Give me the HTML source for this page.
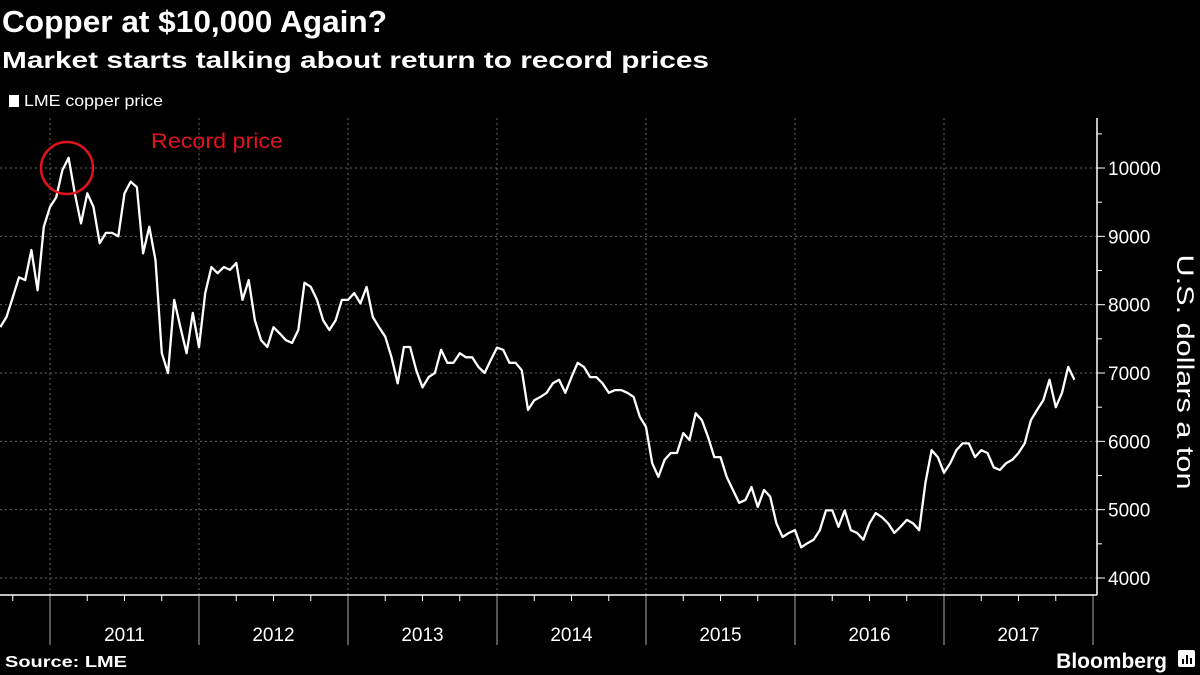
<!DOCTYPE html>
<html><head><meta charset="utf-8"><style>
body{margin:0;background:#000;width:1200px;height:675px;overflow:hidden;font-family:"Liberation Sans",sans-serif;color:#fff}
</style></head><body>
<svg id="chart" width="1200" height="675" viewBox="0 0 1200 675" xmlns="http://www.w3.org/2000/svg" style="display:block">
<rect width="1200" height="675" fill="#000"/>
<text x="2" y="32" fill="#fff" font-size="31" font-weight="bold" font-family="Liberation Sans, sans-serif" textLength="385" lengthAdjust="spacingAndGlyphs">Copper at $10,000 Again?</text>
<text x="2" y="68" fill="#fff" font-size="23" font-weight="bold" font-family="Liberation Sans, sans-serif" textLength="707" lengthAdjust="spacingAndGlyphs">Market starts talking about return to record prices</text>
<rect x="9" y="95" width="10" height="12" fill="#fff"/>
<text x="24" y="106" fill="#fff" font-size="16" font-family="Liberation Sans, sans-serif" textLength="139" lengthAdjust="spacingAndGlyphs">LME copper price</text>
<g id="grid"></g>
<g id="axes"></g>
<path id="line" fill="none" stroke="#fff" stroke-width="2.3" stroke-linejoin="round"/>
<circle cx="67" cy="168" r="26" fill="none" stroke="#e0141e" stroke-width="2.5"/>
<text x="151" y="148" fill="#e0141e" font-size="21" font-family="Liberation Sans, sans-serif" textLength="132" lengthAdjust="spacingAndGlyphs">Record price</text>
<text transform="translate(1177,372) rotate(90)" text-anchor="middle" fill="#fff" font-size="24" font-family="Liberation Sans, sans-serif" textLength="235" lengthAdjust="spacingAndGlyphs">U.S. dollars a ton</text>
<text x="5" y="667" fill="#fff" font-size="16" font-weight="bold" font-family="Liberation Sans, sans-serif" textLength="122" lengthAdjust="spacingAndGlyphs">Source: LME</text>
<text x="1167" y="668" text-anchor="end" fill="#fff" font-size="21" font-weight="bold" font-family="Liberation Sans, sans-serif">Bloomberg</text>
<g><rect x="1178" y="650" width="17" height="17" rx="2" fill="#fff"/><rect x="1182" y="659" width="2" height="5" fill="#000"/><rect x="1186" y="655" width="2" height="9" fill="#000"/><rect x="1190" y="658" width="2" height="6" fill="#000"/></g>
</svg>
<script>
const startYear = 2010 + 8/12;
const stepYears = 1/24;
const prices = [7672,7820,8110,8400,8360,8800,8210,9140,9430,9570,9970,10150,9630,9190,9630,9430,8900,9050,9050,9000,9630,9800,9720,8750,9140,8650,7290,7000,8070,7670,7290,7880,7380,8170,8550,8460,8550,8510,8610,8070,8360,7770,7480,7380,7670,7580,7480,7440,7630,8320,8260,8070,7770,7630,7770,8070,8070,8170,8020,8260,7820,7670,
7530,7230,6850,7380,7380,7040,6790,6940,7000,7340,7150,7150,7290,7230,7230,7090,7000,7190,7370,7340,7150,7150,7040,6460,6600,6650,6710,6850,6900,6710,6940,7150,7090,6940,6940,6850,6710,6750,6750,6710,6650,6360,6210,5680,5480,5730,5830,5830,6120,6020,6410,6310,6060,5770,5770,5480,5290,
5100,5140,5330,5040,5290,5190,4800,4600,4660,4700,4450,4510,4560,4700,4990,4990,4750,4990,4700,4660,4560,4800,4950,4890,4800,4660,4750,4850,4800,4700,5390,5870,5770,5540,5680,5870,5970,5970,5770,5870,5830,5620,5580,5680,5730,5830,5970,6310,6460,6600,6900,6500,6710,7090,6900];
const yearLabels = ["2011","2012","2013","2014","2015","2016","2017"];
const yTicks = [4000,5000,6000,7000,8000,9000,10000];

const NS="http://www.w3.org/2000/svg";
function xs(t){return 50+(t-2011)*149;}
function ys(v){return 578-(v-4000)*0.06833;}
function mk(tag,attrs,parent){const e=document.createElementNS(NS,tag);for(const k in attrs)e.setAttribute(k,attrs[k]);parent.appendChild(e);return e;}
const grid=document.getElementById('grid'), axes=document.getElementById('axes');
yTicks.forEach(v=>{
  const l=mk('line',{x1:0,x2:1097,y1:ys(v),y2:ys(v),stroke:'#666','stroke-width':1,'stroke-dasharray':'2,3'},grid);
  
  
  const tk=mk('line',{x1:1097,x2:1105,y1:ys(v),y2:ys(v),stroke:'#fff','stroke-width':1},axes);
  
  
  const t=mk('text',{x:1108,y:ys(v)+7,fill:'#fff','font-size':19,'font-family':'Liberation Sans, sans-serif'},axes);
  t.textContent=v;
  
  
});
for(let v=4000;v<=10500;v+=500){if(v%1000)mk('line',{x1:1097,x2:1102,y1:ys(v),y2:ys(v),stroke:'#fff'},axes);}
for(let i=0;i<=yearLabels.length;i++){
  const x=xs(2011+i);
  if(i<yearLabels.length){
    const g=mk('line',{x1:x,x2:x,y1:118,y2:595,stroke:'#666','stroke-dasharray':'2,3'},grid);
    
    
  }
  const tk=mk('line',{x1:x,x2:x,y1:595,y2:645,stroke:'#aaa'},axes);
  
  
  for(let q=1;q<4;q++){const qx=xs(2010+i+q/4);mk('line',{x1:qx,x2:qx,y1:595,y2:601,stroke:'#fff'},axes);}
  if(i<yearLabels.length){
    const t=mk('text',{x:xs(2011.5+i),y:641,'text-anchor':'middle',fill:'#fff','font-size':19,'font-family':'Liberation Sans, sans-serif'},axes);
    t.textContent=yearLabels[i];
    
    
  }
}
const xa=mk('line',{x1:0,x2:1097,y1:595,y2:595,stroke:'#fff','stroke-width':1.5},axes);


const ya=mk('line',{x1:1097,x2:1097,y1:118,y2:595,stroke:'#fff','stroke-width':1.5},axes);


document.getElementById('line').setAttribute('d',prices.map((p,i)=>(i?'L':'M')+xs(startYear+i*stepYears).toFixed(1)+','+ys(p).toFixed(1)).join(''));
</script>
</body></html>
